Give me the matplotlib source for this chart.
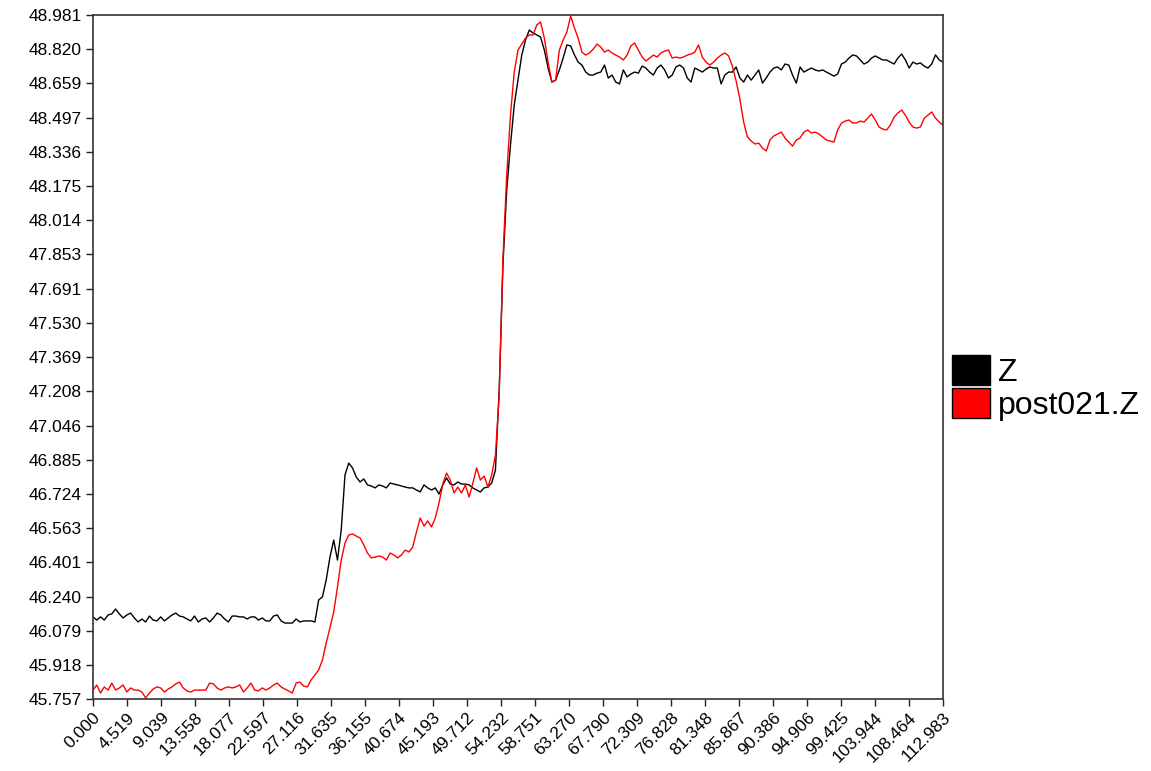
import numpy as np
import matplotlib
matplotlib.use("Agg")
import matplotlib.pyplot as plt
from matplotlib.patches import Patch

# time axis, 227 samples across the recorded range
t_end = 112.983
n_pts = 227

z = [
    46.144, 46.129, 46.144, 46.129, 46.153, 46.158, 46.181, 46.158, 46.139, 46.153,
    46.162, 46.139, 46.120, 46.134, 46.120, 46.148, 46.129, 46.125, 46.144, 46.125,
    46.139, 46.153, 46.162, 46.148, 46.144, 46.134, 46.125, 46.148, 46.120, 46.134,
    46.139, 46.120, 46.139, 46.162, 46.153, 46.134, 46.120, 46.148, 46.148, 46.144,
    46.144, 46.134, 46.144, 46.144, 46.129, 46.139, 46.125, 46.125, 46.148, 46.153,
    46.125, 46.115, 46.115, 46.115, 46.134, 46.120, 46.125, 46.125, 46.125, 46.120,
    46.224, 46.238, 46.318, 46.426, 46.506, 46.412, 46.554, 46.813, 46.869, 46.846,
    46.803, 46.780, 46.794, 46.766, 46.761, 46.752, 46.766, 46.761, 46.752, 46.775,
    46.770, 46.766, 46.761, 46.756, 46.752, 46.752, 46.742, 46.733, 46.766, 46.752,
    46.742, 46.752, 46.723, 46.766, 46.799, 46.770, 46.766, 46.780, 46.770, 46.770,
    46.766, 46.752, 46.742, 46.733, 46.752, 46.756, 46.775, 46.836, 47.213, 47.803,
    48.156, 48.368, 48.557, 48.675, 48.792, 48.863, 48.910, 48.896, 48.887, 48.877,
    48.816, 48.731, 48.665, 48.674, 48.722, 48.778, 48.840, 48.835, 48.793, 48.759,
    48.745, 48.712, 48.698, 48.698, 48.707, 48.712, 48.745, 48.684, 48.698, 48.665,
    48.656, 48.722, 48.689, 48.703, 48.712, 48.707, 48.740, 48.731, 48.712, 48.698,
    48.731, 48.745, 48.722, 48.684, 48.698, 48.736, 48.745, 48.731, 48.684, 48.665,
    48.731, 48.722, 48.712, 48.726, 48.736, 48.731, 48.731, 48.656, 48.698, 48.712,
    48.712, 48.736, 48.684, 48.665, 48.698, 48.674, 48.698, 48.722, 48.660, 48.684,
    48.712, 48.731, 48.736, 48.722, 48.750, 48.745, 48.698, 48.660, 48.736, 48.712,
    48.722, 48.731, 48.722, 48.717, 48.722, 48.712, 48.703, 48.693, 48.703, 48.750,
    48.759, 48.778, 48.793, 48.788, 48.769, 48.750, 48.759, 48.778, 48.788, 48.778,
    48.769, 48.769, 48.759, 48.750, 48.778, 48.797, 48.769, 48.731, 48.759, 48.750,
    48.755, 48.740, 48.731, 48.750, 48.793, 48.769, 48.759,
]

post021_z = [
    45.799, 45.823, 45.785, 45.814, 45.799, 45.832, 45.799, 45.809, 45.823, 45.790,
    45.809, 45.799, 45.799, 45.790, 45.762, 45.785, 45.804, 45.814, 45.809, 45.790,
    45.804, 45.814, 45.828, 45.837, 45.809, 45.795, 45.790, 45.799, 45.799, 45.799,
    45.799, 45.832, 45.828, 45.809, 45.799, 45.809, 45.814, 45.809, 45.814, 45.823,
    45.790, 45.809, 45.832, 45.799, 45.795, 45.809, 45.799, 45.809, 45.823, 45.832,
    45.814, 45.804, 45.795, 45.785, 45.832, 45.837, 45.818, 45.814, 45.847, 45.870,
    45.894, 45.941, 46.021, 46.092, 46.167, 46.285, 46.412, 46.492, 46.530, 46.535,
    46.525, 46.516, 46.483, 46.445, 46.422, 46.426, 46.431, 46.426, 46.412, 46.445,
    46.436, 46.422, 46.436, 46.459, 46.450, 46.473, 46.544, 46.610, 46.572, 46.596,
    46.568, 46.610, 46.681, 46.770, 46.822, 46.789, 46.728, 46.756, 46.728, 46.766,
    46.709, 46.775, 46.846, 46.789, 46.808, 46.756, 46.813, 46.907, 47.190, 47.835,
    48.227, 48.509, 48.712, 48.816, 48.844, 48.872, 48.887, 48.887, 48.934, 48.948,
    48.872, 48.759, 48.665, 48.674, 48.816, 48.863, 48.901, 48.976, 48.920, 48.872,
    48.806, 48.792, 48.802, 48.820, 48.844, 48.830, 48.806, 48.816, 48.802, 48.792,
    48.783, 48.769, 48.792, 48.835, 48.849, 48.816, 48.783, 48.764, 48.778, 48.792,
    48.783, 48.802, 48.811, 48.816, 48.778, 48.783, 48.778, 48.783, 48.792, 48.797,
    48.806, 48.840, 48.783, 48.759, 48.745, 48.759, 48.778, 48.792, 48.802, 48.788,
    48.740, 48.670, 48.585, 48.476, 48.406, 48.387, 48.373, 48.377, 48.354, 48.340,
    48.392, 48.411, 48.420, 48.429, 48.401, 48.382, 48.363, 48.392, 48.401, 48.429,
    48.439, 48.425, 48.429, 48.420, 48.406, 48.392, 48.387, 48.382, 48.439, 48.472,
    48.481, 48.486, 48.472, 48.472, 48.481, 48.476, 48.495, 48.514, 48.486, 48.453,
    48.443, 48.439, 48.462, 48.500, 48.519, 48.533, 48.509, 48.476, 48.453, 48.448,
    48.453, 48.495, 48.509, 48.524, 48.495, 48.476, 48.462,
]

x_ticks = [0.000, 4.519, 9.039, 13.558, 18.077, 22.597, 27.116, 31.635, 36.155,
           40.674, 45.193, 49.712, 54.232, 58.751, 63.270, 67.790, 72.309, 76.828,
           81.348, 85.867, 90.386, 94.906, 99.425, 103.944, 108.464, 112.983]
y_ticks = [45.757, 45.918, 46.079, 46.240, 46.401, 46.563, 46.724, 46.885, 47.046,
           47.208, 47.369, 47.530, 47.691, 47.853, 48.014, 48.175, 48.336, 48.497,
           48.659, 48.820, 48.981]

t = np.linspace(0, t_end, n_pts)

plt.rcParams['font.family'] = ['Liberation Sans', 'DejaVu Sans']

fig = plt.figure(figsize=(11.51, 7.71), dpi=100)
ax = fig.add_axes([93/1151, 1 - 699/771, 850/1151, 684/771])

ax.plot(t, z, color='black', lw=1.0)
ax.plot(t, post021_z, color='red', lw=1.0)

ax.set_xlim(x_ticks[0], x_ticks[-1])
ax.set_ylim(y_ticks[0], y_ticks[-1])
ax.set_xticks(x_ticks)
ax.set_xticklabels([f"{v:.3f}" for v in x_ticks], rotation=45, ha='right',
                   rotation_mode='anchor', fontsize=12.5)
ax.set_yticks(y_ticks)
ax.set_yticklabels([f"{v:.3f}" for v in y_ticks], fontsize=12.5)
ax.tick_params(direction='out', length=5, width=1, color='#222222', pad=3)
for s in ax.spines.values():
    s.set_color('#333333')
    s.set_linewidth(1.2)

handles = [Patch(facecolor='black', edgecolor='black', label='Z'),
           Patch(facecolor='red', edgecolor='black', label='post021.Z')]
fig.legend(handles=handles, loc='center left', bbox_to_anchor=(952/1151, 1 - 388/771),
           frameon=False, fontsize=23, handlelength=1.2, handleheight=1.05,
           labelspacing=0.0, handletextpad=0.25, borderpad=0, borderaxespad=0)

fig.savefig("out.png", dpi=100)
